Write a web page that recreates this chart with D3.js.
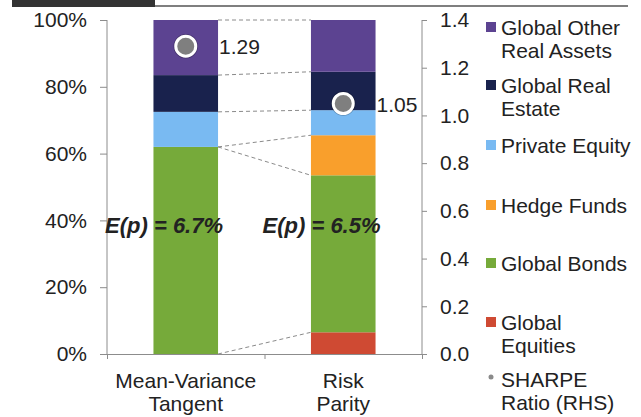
<!DOCTYPE html>
<html><head><meta charset="utf-8">
<script src="https://cdn.jsdelivr.net/npm/d3@7"></script>
<style>
body{margin:0;background:#fff;}
text{font-family:"Liberation Sans",Arial,sans-serif;fill:#222;}
</style></head>
<body><svg id="c" width="641" height="417"></svg>
<script>
const categories = ["Mean-Variance\nTangent", "Risk\nParity"];
const seriesNames = ["Global Equities","Global Bonds","Hedge Funds","Private Equity","Global Real Estate","Global Other Real Assets"];
const meanVariance = [0, 62, 0, 10.5, 11, 16.5];
const riskParity = [6.5, 47, 12, 7.5, 11.5, 15.5];
const sharpe = [1.29, 1.05];
const expectedReturn = ["E(p) = 6.7%", "E(p) = 6.5%"];
const leftTicks = [0,20,40,60,80,100];
const rightTicks = [0,0.2,0.4,0.6,0.8,1.0,1.2,1.4];
const colors = ["#cf4a33","#76aa3a","#f99f2c","#79baf2","#19224d","#5c4391"];
const legendLabels = [["Global Other","Real Assets"],["Global Real","Estate"],["Private Equity"],["Hedge Funds"],["Global Bonds"],["Global","Equities"],["SHARPE","Ratio (RHS)"]];

const FS = "21px";
const svg = d3.select("#c");
const X0 = 107, X1 = 422, Y0 = 354, Y1 = 20;
const x = d3.scaleBand().domain(categories).range([X0, X1]).paddingInner(0.59).paddingOuter(0.295);
const yL = d3.scaleLinear().domain([0,100]).range([Y0, Y1]);
const yR = d3.scaleLinear().domain([0,1.4]).range([Y0, Y1]);

// header rule
svg.append("rect").attr("x",12).attr("y",0).attr("width",143).attr("height",7).attr("fill","#333");
svg.append("line").attr("x1",155).attr("x2",628).attr("y1",6).attr("y2",6).attr("stroke","#555").attr("stroke-width",1.5);

const rows = categories.map((c,i)=>{const o={cat:c}; seriesNames.forEach((s,j)=>o[s]=(i===0?meanVariance:riskParity)[j]); return o;});
const stack = d3.stack().keys(seriesNames)(rows);

// bars
stack.forEach((layer,j)=>{
  svg.append("g").selectAll("rect").data(layer).join("rect")
    .attr("x",d=>x(d.data.cat)).attr("width",x.bandwidth())
    .attr("y",d=>yL(d[1])).attr("height",d=>yL(d[0])-yL(d[1]))
    .attr("fill",colors[j]);
});

// series lines
stack.forEach((layer,j)=>{
  svg.append("line")
    .attr("x1",x(categories[0])+x.bandwidth()).attr("y1",yL(layer[0][1]))
    .attr("x2",x(categories[1])).attr("y2",yL(layer[1][1]))
    .attr("stroke","#8a8a8a").attr("stroke-width",1).attr("stroke-dasharray","4,3");
});

// axes
const axL = svg.append("g").attr("transform",`translate(${X0},0)`)
  .call(d3.axisLeft(yL).tickValues(leftTicks).tickFormat(d=>d+"%").tickSize(7).tickPadding(13));
const axR = svg.append("g").attr("transform",`translate(${X1},0)`)
  .call(d3.axisRight(yR).tickValues(rightTicks).tickFormat(d3.format(".1f")).tickSize(5).tickPadding(13));
const axB = svg.append("g").attr("transform",`translate(0,${Y0})`)
  .call(d3.axisBottom(d3.scaleLinear().domain([0,2]).range([X0,X1])).tickValues([0,1,2]).tickFormat("").tickSize(5).tickSizeOuter(0));
[axL,axR,axB].forEach(a=>{
  a.selectAll("path,line").attr("stroke","#8c8c8c");
  a.selectAll("text").style("font-size",FS).attr("fill","#222");
});
axL.select(".domain").attr("d",`M0,${Y1}V${Y0}`);
axR.select(".domain").attr("d",`M0,${Y1}V${Y0}`);

// category labels
categories.forEach(c=>{
  const t = svg.append("text").attr("text-anchor","middle").style("font-size",FS);
  c.split("\n").forEach((ln,i)=>t.append("tspan").attr("x",x(c)+x.bandwidth()/2).attr("y",388+i*23).text(ln));
});

// E(p) labels
categories.forEach((c,i)=>{
  svg.append("text").attr("x",x(c)+x.bandwidth()+5).attr("y",233).attr("text-anchor","end")
    .style("font-size","22px").style("font-weight","bold").style("font-style","italic").attr("fill","#1a1a1a")
    .text(expectedReturn[i]);
});

// sharpe points
categories.forEach((c,i)=>{
  const cx = x(c)+x.bandwidth()/2, cy = yR(sharpe[i]);
  svg.append("circle").attr("cx",cx).attr("cy",cy).attr("r",11.5).attr("fill","none").attr("stroke","rgba(0,0,0,0.25)").attr("stroke-width",1.5);
  svg.append("circle").attr("cx",cx).attr("cy",cy).attr("r",10).attr("fill","#7f7f7f").attr("stroke","#fff").attr("stroke-width",3);
  svg.append("text").attr("x",x(c)+x.bandwidth()+1).attr("y",cy+8).style("font-size",FS).text(d3.format(".2f")(sharpe[i]));
});

// legend
const legY = [35,93,153,213,271,330,387];
const legColors = [colors[5],colors[4],colors[3],colors[2],colors[1],colors[0],null];
legendLabels.forEach((lab,i)=>{
  if(legColors[i]) svg.append("rect").attr("x",486).attr("y",legY[i]-13).attr("width",10).attr("height",10).attr("fill",legColors[i]);
  else svg.append("circle").attr("cx",491).attr("cy",legY[i]-10).attr("r",2.5).attr("fill","#8a8a8a");
  const t = svg.append("text").style("font-size",FS);
  lab.forEach((ln,k)=>t.append("tspan").attr("x",501).attr("y",legY[i]+k*23).text(ln));
});
</script></body></html>
